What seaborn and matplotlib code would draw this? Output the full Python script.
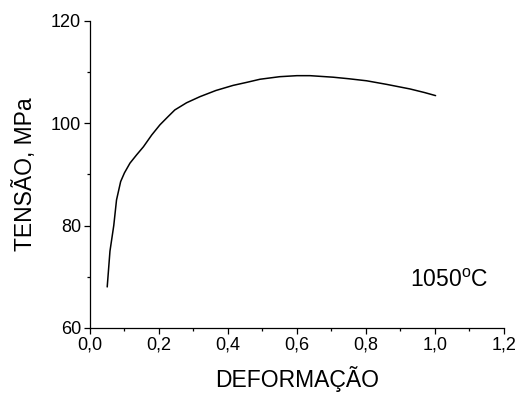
import matplotlib
matplotlib.use("Agg")
import matplotlib.pyplot as plt
import seaborn as sns
import pandas as pd
from matplotlib.ticker import MultipleLocator, FuncFormatter

strain = [0.05, 0.058, 0.069, 0.077, 0.089, 0.10, 0.116, 0.135, 0.155, 0.179, 0.203,
          0.225, 0.246, 0.28, 0.319, 0.365, 0.415, 0.455, 0.493, 0.55, 0.60, 0.638,
          0.705, 0.75, 0.802, 0.86, 0.928, 0.97, 1.002]
stress = [68.0, 75.0, 80.0, 85.0, 88.6, 90.3, 92.2, 93.8, 95.4, 97.7, 99.7,
          101.2, 102.6, 104.0, 105.2, 106.4, 107.4, 108.0, 108.6, 109.1, 109.3, 109.3,
          109.0, 108.7, 108.3, 107.6, 106.7, 106.0, 105.4]

df = pd.DataFrame({"strain": strain, "stress": stress})

sns.set_theme(style="ticks")
plt.rcParams["font.family"] = ["Liberation Sans", "DejaVu Sans"]
plt.rcParams["mathtext.fontset"] = "custom"
plt.rcParams["mathtext.rm"] = "Liberation Sans"

fig = plt.figure(figsize=(5.2, 3.95), dpi=100)
ax = fig.add_axes([0.173, 0.170, 0.796, 0.777])
sns.lineplot(data=df, x="strain", y="stress", ax=ax, color="black", linewidth=1.1, sort=False)

ax.set_xlim(0, 1.2)
ax.set_ylim(60, 120)
ax.xaxis.set_major_locator(MultipleLocator(0.2))
ax.xaxis.set_minor_locator(MultipleLocator(0.1))
ax.yaxis.set_major_locator(MultipleLocator(20))
ax.yaxis.set_minor_locator(MultipleLocator(10))
ax.xaxis.set_major_formatter(FuncFormatter(lambda v, p: f"{v:.1f}".replace(".", ",")))
ax.yaxis.set_major_formatter(FuncFormatter(lambda v, p: f"{v:.0f}"))

for s in ["top", "right"]:
    ax.spines[s].set_visible(False)
for s in ["left", "bottom"]:
    ax.spines[s].set_linewidth(0.9)
    ax.spines[s].set_color("black")

ax.tick_params(which="major", direction="out", length=4.5, width=0.9, labelsize=13, colors="black", pad=2)
ax.tick_params(which="minor", direction="out", length=2.5, width=0.9, colors="black")

ax.set_xlabel("DEFORMAÇÃO", fontsize=16.5, labelpad=9, color="black")
ax.set_ylabel("TENSÃO, MPa", fontsize=16.5, labelpad=10, color="black")

ax.text(1.04, 69.3, r"1050$^{\mathrm{o}}$C", fontsize=16.5, ha="center", va="center", color="black")

fig.savefig("out.png", dpi=100)
